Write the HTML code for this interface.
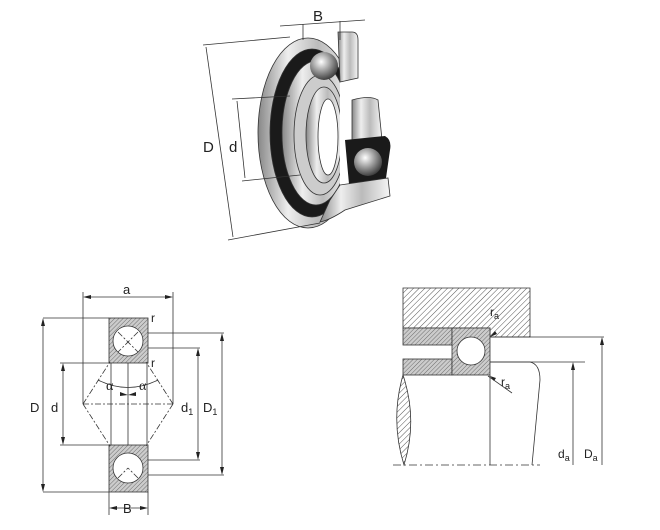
<!DOCTYPE html>
<html><head><style>
html,body{margin:0;padding:0;background:#fff}
svg{display:block}
text{font-family:"Liberation Sans",sans-serif;fill:#222}
</style></head><body>
<svg width="660" height="530" viewBox="0 0 660 530" xmlns="http://www.w3.org/2000/svg">
<defs>
<pattern id="h" width="4" height="4" patternUnits="userSpaceOnUse" patternTransform="rotate(45)">
<rect width="4" height="4" fill="#fff"/><line x1="0" y1="0" x2="0" y2="4" stroke="#555" stroke-width="1"/></pattern>
<pattern id="h2" width="3" height="3" patternUnits="userSpaceOnUse" patternTransform="rotate(45)">
<rect width="3" height="3" fill="#ccc"/><line x1="0" y1="0" x2="0" y2="3" stroke="#555" stroke-width="0.8"/></pattern>
<radialGradient id="ball" cx="0.4" cy="0.35" r="0.7"><stop offset="0" stop-color="#fff"/><stop offset="0.5" stop-color="#999"/><stop offset="1" stop-color="#333"/></radialGradient>
<linearGradient id="met" x1="0" x2="1"><stop offset="0" stop-color="#888"/><stop offset="0.3" stop-color="#eee"/><stop offset="0.6" stop-color="#bbb"/><stop offset="1" stop-color="#f5f5f5"/></linearGradient>
</defs>

<!-- 3D bearing -->
<g stroke="#333" stroke-width="0.8">
<ellipse cx="308" cy="133" rx="50" ry="95" fill="url(#met)"/>
<ellipse cx="312" cy="133" rx="42" ry="84" fill="#1a1a1a"/>
<ellipse cx="316" cy="133" rx="34" ry="72" fill="url(#met)"/>
<ellipse cx="320" cy="135" rx="26" ry="60" fill="#ccc"/>
<ellipse cx="324" cy="135" rx="18" ry="48" fill="url(#met)"/>
<ellipse cx="328" cy="137" rx="10" ry="38" fill="#fff"/>
</g>
<rect x="340" y="80" width="70" height="115" fill="#fff"/>
<path d="M338 32 H352 Q358 32 358 40 V78 L340 82 Z" fill="url(#met)" stroke="#333" stroke-width="0.8"/>
<path d="M352 100 Q370 95 378 100 L382 140 L352 150 Z" fill="url(#met)" stroke="#333" stroke-width="0.8"/>
<path d="M345 140 L385 136 Q392 140 390 150 L385 185 L350 195 Z" fill="#1a1a1a"/>
<path d="M340 185 L388 178 L390 196 L345 210 Q330 220 320 222 L330 200 Z" fill="url(#met)" stroke="#333" stroke-width="0.8"/>
<circle cx="324" cy="66" r="14" fill="url(#ball)"/>
<circle cx="368" cy="162" r="14" fill="url(#ball)"/>
<g stroke="#333" stroke-width="0.8" fill="none">
<line x1="203" y1="45" x2="290" y2="37"/>
<line x1="228" y1="240" x2="320" y2="223"/>
<line x1="206" y1="47" x2="233" y2="237"/>
<line x1="232" y1="99" x2="290" y2="96"/>
<line x1="242" y1="181" x2="300" y2="175"/>
<line x1="237" y1="101" x2="245" y2="178"/>
<line x1="280" y1="26" x2="365" y2="20"/>
<line x1="303" y1="24" x2="303" y2="40"/>
<line x1="340" y1="21" x2="340" y2="40"/>
</g>
<text x="203" y="152" font-size="15">D</text>
<text x="229" y="152" font-size="15">d</text>
<text x="313" y="21" font-size="15">B</text>

<!-- left drawing -->
<g stroke="#333" stroke-width="0.8" fill="none">
<rect x="109" y="318" width="39" height="45" fill="url(#h2)"/>
<rect x="109" y="445" width="39" height="47" fill="url(#h2)"/>
<circle cx="128" cy="341" r="15" fill="#fff"/>
<circle cx="128" cy="468" r="15" fill="#fff"/>
<line x1="111" y1="363" x2="111" y2="445"/>
<line x1="128" y1="363" x2="128" y2="445"/>
<line x1="147" y1="363" x2="147" y2="445"/>
<line x1="43" y1="318" x2="109" y2="318"/>
<line x1="43" y1="492" x2="109" y2="492"/>
<line x1="43" y1="320" x2="43" y2="490"/>
<line x1="60" y1="363" x2="109" y2="363"/>
<line x1="60" y1="445" x2="109" y2="445"/>
<line x1="63" y1="365" x2="63" y2="443"/>
<line x1="83" y1="292" x2="83" y2="404"/>
<line x1="173" y1="292" x2="173" y2="404"/>
<line x1="85" y1="297" x2="171" y2="297"/>
<line x1="148" y1="333" x2="224" y2="333"/>
<line x1="148" y1="475" x2="224" y2="475"/>
<line x1="222" y1="335" x2="222" y2="473"/>
<line x1="148" y1="348" x2="200" y2="348"/>
<line x1="148" y1="460" x2="200" y2="460"/>
<line x1="198" y1="350" x2="198" y2="458"/>
<line x1="109" y1="492" x2="109" y2="515"/>
<line x1="148" y1="492" x2="148" y2="515"/>
<line x1="111" y1="508" x2="146" y2="508"/>
<path d="M98 380 Q128 395 158 380"/>
<g stroke-dasharray="6 2 2 2">
<line x1="83" y1="404" x2="173" y2="404"/>
<line x1="83" y1="404" x2="110" y2="362"/>
<line x1="173" y1="404" x2="146" y2="362"/>
<line x1="83" y1="404" x2="110" y2="446"/>
<line x1="173" y1="404" x2="146" y2="446"/>
<line x1="118" y1="332" x2="138" y2="352"/>
<line x1="138" y1="332" x2="118" y2="352"/>
<line x1="118" y1="478" x2="128" y2="468"/>
<line x1="138" y1="478" x2="128" y2="468"/>
</g>
</g>
<g fill="#222">
<path d="M43 318 l-2 8 h4z M43 492 l-2 -8 h4z M63 363 l-2 8 h4z M63 445 l-2 -8 h4z"/>
<path d="M83 297 l8 -2 v4z M173 297 l-8 -2 v4z M222 333 l-2 8 h4z M222 475 l-2 -8 h4z"/>
<path d="M198 348 l-2 8 h4z M198 460 l-2 -8 h4z M109 508 l8 -2 v4z M148 508 l-8 -2 v4z"/>
<path d="M128 395 l-8 -3 v4z M128 395 l8 -3 v4z"/>
</g>
<text x="123" y="294" font-size="13">a</text>
<text x="151" y="322" font-size="12">r</text>
<text x="151" y="367" font-size="12">r</text>
<text x="106" y="390" font-size="14" style="font-family:'Liberation Serif',serif">α</text>
<text x="139" y="390" font-size="14" style="font-family:'Liberation Serif',serif">α</text>
<text x="30" y="412" font-size="13">D</text>
<text x="51" y="412" font-size="13">d</text>
<text x="181" y="412" font-size="13">d<tspan font-size="9" dy="3">1</tspan></text>
<text x="203" y="412" font-size="13">D<tspan font-size="9" dy="3">1</tspan></text>
<text x="123" y="513" font-size="13">B</text>

<!-- right drawing -->
<g stroke="#333" stroke-width="0.8">
<path d="M403 288 H530 V337 H490 V328 H403 Z" fill="url(#h)"/>
<rect x="403" y="328" width="49" height="17" fill="url(#h2)"/>
<rect x="403" y="359" width="49" height="16" fill="url(#h2)"/>
<rect x="452" y="328" width="38" height="47" fill="url(#h2)"/>
<circle cx="471" cy="351" r="14" fill="#fff"/>
<path d="M403 375 Q390 420 404 465 Q418 420 403 375 Z" fill="url(#h)"/>
<g fill="none">
<line x1="490" y1="337" x2="604" y2="337"/>
<line x1="490" y1="362" x2="585" y2="362"/>
<path d="M490 362 H530 Q540 364 540 380 L532 465"/>
<line x1="490" y1="375" x2="490" y2="465"/>
<line x1="602" y1="339" x2="602" y2="465"/>
<line x1="573" y1="364" x2="573" y2="465"/>
<line x1="488" y1="376" x2="512" y2="393"/>
<line x1="393" y1="465" x2="540" y2="465" stroke-dasharray="8 3 2 3"/>
</g>
</g>
<g fill="#222">
<path d="M602 337 l-2 8 h4z M573 362 l-2 8 h4z M490 337 l5 -6 l2 3z M490 376 l6 2 l-2 3z"/>
</g>
<text x="490" y="316" font-size="12">r<tspan font-size="9" dy="3">a</tspan></text>
<text x="501" y="386" font-size="12">r<tspan font-size="9" dy="3">a</tspan></text>
<text x="558" y="458" font-size="12">d<tspan font-size="9" dy="3">a</tspan></text>
<text x="584" y="458" font-size="12">D<tspan font-size="9" dy="3">a</tspan></text>
</svg>
</body></html>
